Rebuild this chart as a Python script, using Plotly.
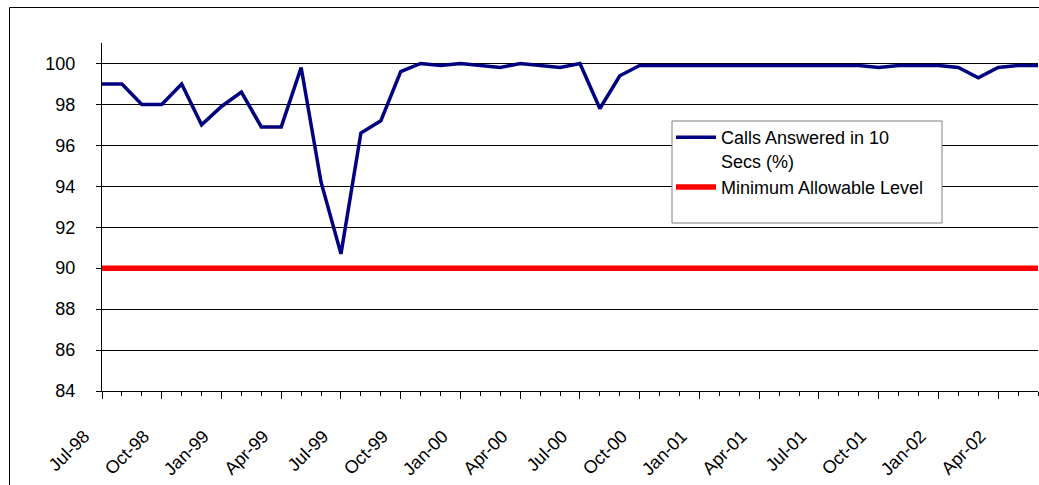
import plotly.graph_objects as go

months = ["Jul-98", "Aug-98", "Sep-98", "Oct-98", "Nov-98", "Dec-98",
          "Jan-99", "Feb-99", "Mar-99", "Apr-99", "May-99", "Jun-99",
          "Jul-99", "Aug-99", "Sep-99", "Oct-99", "Nov-99", "Dec-99",
          "Jan-00", "Feb-00", "Mar-00", "Apr-00", "May-00", "Jun-00",
          "Jul-00", "Aug-00", "Sep-00", "Oct-00", "Nov-00", "Dec-00",
          "Jan-01", "Feb-01", "Mar-01", "Apr-01", "May-01", "Jun-01",
          "Jul-01", "Aug-01", "Sep-01", "Oct-01", "Nov-01", "Dec-01",
          "Jan-02", "Feb-02", "Mar-02", "Apr-02", "May-02", "Jun-02"]

calls_answered = [99.0, 99.0, 98.0, 98.0, 99.0, 97.0,
                  97.9, 98.6, 96.9, 96.9, 99.8, 94.2,
                  90.7, 96.6, 97.2, 99.6, 100.0, 99.9,
                  100.0, 99.9, 99.8, 100.0, 99.9, 99.8,
                  100.0, 97.8, 99.4, 99.9, 99.9, 99.9,
                  99.9, 99.9, 99.9, 99.9, 99.9, 99.9,
                  99.9, 99.9, 99.9, 99.8, 99.9, 99.9,
                  99.9, 99.8, 99.3, 99.8, 99.9, 99.9]

minimum_level = [90, 90, 90, 90, 90, 90, 90, 90, 90, 90, 90, 90,
                 90, 90, 90, 90, 90, 90, 90, 90, 90, 90, 90, 90,
                 90, 90, 90, 90, 90, 90, 90, 90, 90, 90, 90, 90,
                 90, 90, 90, 90, 90, 90, 90, 90, 90, 90, 90, 90]

y_ticks = [84, 86, 88, 90, 92, 94, 96, 98, 100]

x_idx = list(range(len(months)))
label_idx = x_idx[::3]
label_text = [m + "\u00a0" * 5 for m in months[::3]]

FONT = "Liberation Sans, Arial, sans-serif"
W, H = 1039, 485
ML, MR, MT, MB = 102, 1, 43, 94
PW, PH = W - ML - MR, H - MT - MB
Y_RANGE = [84, 101]

def px_x(px):
    return (px - ML) / PW

def px_y(py):
    return 1 - (py - MT) / PH

fig = go.Figure()
fig.add_trace(go.Scatter(x=x_idx, y=calls_answered, mode="lines",
                         name="Calls Answered in 10<br>Secs (%)",
                         line=dict(color="#000080", width=3.5)))
fig.add_trace(go.Scatter(x=x_idx, y=minimum_level, mode="lines",
                         name="Minimum Allowable Level", yaxis="y2",
                         line=dict(color="#FF0000", width=5.5)))

fig.update_layout(
    width=W, height=H,
    margin=dict(l=ML, r=MR, t=MT, b=MB, pad=0),
    paper_bgcolor="white", plot_bgcolor="white",
    font=dict(family=FONT, size=18, color="black"),
    showlegend=True,
    legend=dict(x=px_x(671), y=px_y(119), xanchor="left", yanchor="top",
                bgcolor="rgba(0,0,0,0)", borderwidth=0,
                font=dict(family=FONT, size=18, color="black"),
                valign="top", tracegroupgap=0, itemwidth=40),
    shapes=[
        dict(type="rect", xref="paper", yref="paper",
             x0=px_x(672), x1=px_x(942), y0=px_y(223), y1=px_y(121),
             fillcolor="white", line=dict(color="#808080", width=1),
             layer="above"),
        dict(type="rect", xref="paper", yref="paper",
             x0=px_x(9.5), x1=px_x(1060), y0=px_y(520), y1=px_y(7.5),
             fillcolor="rgba(0,0,0,0)", line=dict(color="black", width=1),
             layer="below"),
    ],
    yaxis2=dict(
        overlaying="y", side="left", range=Y_RANGE,
        tickmode="array", tickvals=y_ticks,
        ticks="outside", ticklen=5, tickcolor="black", tickwidth=1,
        showticklabels=False, showgrid=False, zeroline=False,
        showline=True, linecolor="black", linewidth=1,
    ),
)

fig.update_xaxes(
    range=[0, len(months) - 1],
    tickmode="array", tickvals=label_idx, ticktext=label_text,
    tickangle=-45, ticks="outside", ticklen=7, tickcolor="black", tickwidth=1,
    minor=dict(tickmode="linear", tick0=0, dtick=1, ticks="outside",
               ticklen=4, tickcolor="black", tickwidth=1, showgrid=False),
    showline=True, linecolor="black", linewidth=1,
    showgrid=False, zeroline=False,
    ticklabelstandoff=2,
    tickfont=dict(family=FONT, size=18, color="black"),
)
fig.layout.yaxis.update(
    range=Y_RANGE,
    tickmode="array", tickvals=y_ticks,
    ticks="outside", ticklen=22, tickcolor="rgba(0,0,0,0)", tickwidth=1,
    showline=True, linecolor="black", linewidth=1,
    showgrid=True, gridcolor="black", gridwidth=1,
    zeroline=False,
    tickfont=dict(family=FONT, size=18, color="black"),
)

fig.write_html("out.html")
